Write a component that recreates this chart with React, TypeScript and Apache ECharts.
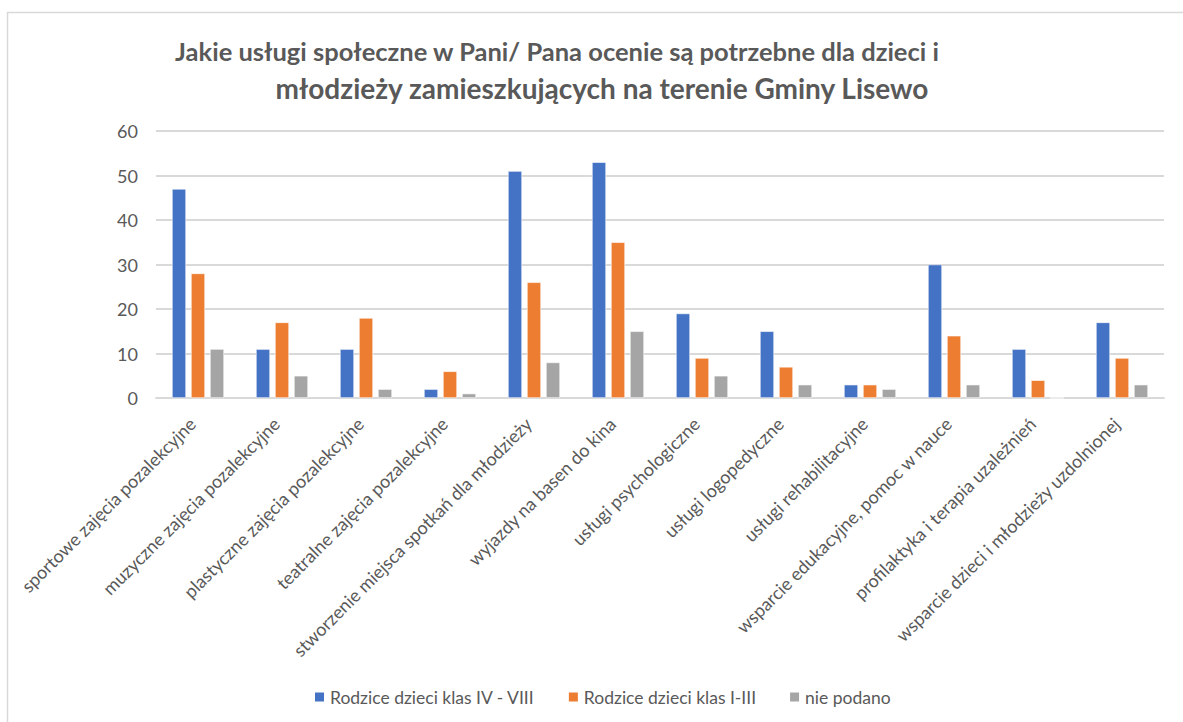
import React, { useEffect, useRef } from "react";
import * as echarts from "echarts";

const categories = [
  "sportowe zajęcia pozalekcyjne",
  "muzyczne zajęcia pozalekcyjne",
  "plastyczne zajęcia pozalekcyjne",
  "teatralne zajęcia pozalekcyjne",
  "stworzenie miejsca spotkań dla młodzieży",
  "wyjazdy na basen do kina",
  "usługi psychologiczne",
  "usługi logopedyczne",
  "usługi rehabilitacyjne",
  "wsparcie edukacyjne, pomoc w nauce",
  "profilaktyka i terapia uzależnień",
  "wsparcie dzieci i młodzieży uzdolnionej",
];

const seriesNames = ["Rodzice dzieci klas IV - VIII", "Rodzice dzieci klas I-III", "nie podano"];
const klasyIVVIII = [47, 11, 11, 2, 51, 53, 19, 15, 3, 30, 11, 17];
const klasyIIII = [28, 17, 18, 6, 26, 35, 9, 7, 3, 14, 4, 9];
const niePodano = [11, 5, 2, 1, 8, 15, 5, 3, 2, 3, 0, 3];
const colors = ["#4472C4", "#ED7D31", "#A5A5A5"];

const titleLines = [
  "Jakie usługi społeczne w Pani/ Pana ocenie są potrzebne dla dzieci i",
  "młodzieży zamieszkujących na terenie Gminy Lisewo",
];

const FONT = "Lato, 'Open Sans', sans-serif";

export default function App() {
  const ref = useRef<HTMLDivElement>(null);
  useEffect(() => {
    document.body.style.margin = "0";
    const chart = echarts.init(ref.current!, null, { renderer: "svg" });
    const data = [klasyIVVIII, klasyIIII, niePodano];
    chart.setOption({
      animation: false,
      backgroundColor: "#ffffff",
      textStyle: { fontFamily: FONT },
      graphic: [
        {
          type: "rect",
          shape: { x: 7.5, y: 12.5, width: 1300, height: 900 },
          style: { fill: "none", stroke: "#D9D9D9", lineWidth: 1.5 },
          silent: true,
        },
        {
          type: "text",
          x: 557,
          y: 51,
          style: {
            text: titleLines[0],
            align: "center",
            verticalAlign: "middle",
            fontFamily: FONT,
            fontSize: 25.5,
            fontWeight: "bold",
            fill: "#595959",
          },
        },
        {
          type: "text",
          x: 602,
          y: 88,
          style: {
            text: titleLines[1],
            align: "center",
            verticalAlign: "middle",
            fontFamily: FONT,
            fontSize: 28,
            fontWeight: "bold",
            fill: "#595959",
          },
        },
      ],
      legend: {
        top: 683,
        left: 308,
        itemWidth: 11,
        itemHeight: 11,
        itemGap: 32,
        icon: "rect",
        textStyle: { fontFamily: FONT, fontSize: 17.5, color: "#595959" },
        data: seriesNames,
      },
      grid: { left: 156, right: 19, top: 131, bottom: 324 },
      xAxis: {
        type: "category",
        data: categories,
        axisLine: { show: true, lineStyle: { color: "#D9D9D9", width: 2 } },
        axisTick: { show: false },
        axisLabel: {
          rotate: 45,
          interval: 0,
          margin: 17,
          padding: [0, 8, 0, 0],
          fontFamily: FONT,
          fontSize: 18,
          color: "#595959",
        },
      },
      yAxis: {
        type: "value",
        min: 0,
        max: 60,
        interval: 10,
        axisLine: { show: false },
        axisTick: { show: false },
        splitLine: { lineStyle: { color: "#D9D9D9", width: 2 } },
        axisLabel: { fontFamily: FONT, fontSize: 18, color: "#595959", margin: 18 },
      },
      series: data.map((d, i) => ({
        name: seriesNames[i],
        type: "bar",
        data: d,
        barGap: "35%",
        barCategoryGap: "38%",
        itemStyle: { color: colors[i], borderColor: "#ffffff", borderWidth: 0.6 },
      })),
    });
    return () => chart.dispose();
  }, []);
  return <div ref={ref} style={{ width: 1183, height: 722 }} />;
}
